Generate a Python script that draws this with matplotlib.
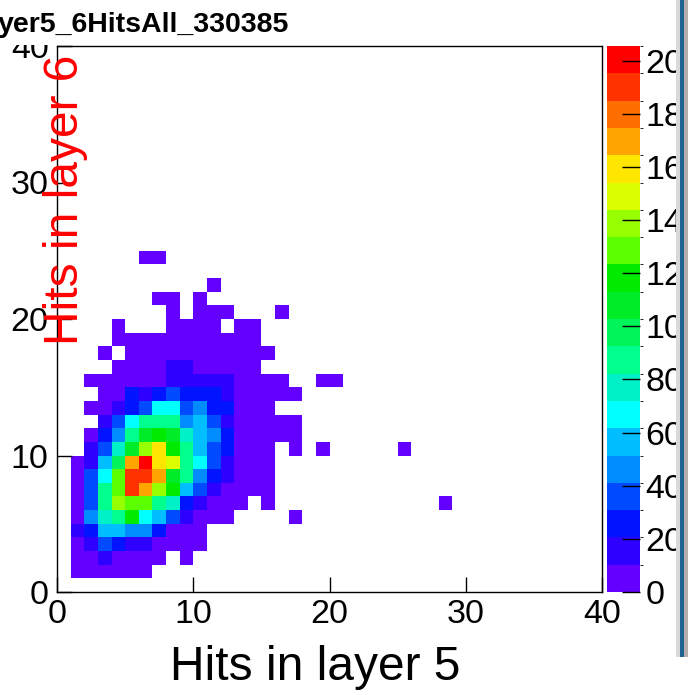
import numpy as np
import matplotlib
matplotlib.use("Agg")
import matplotlib.pyplot as plt
from matplotlib.colors import ListedColormap, BoundaryNorm
from matplotlib.patches import Rectangle

plt.rcParams['font.family'] = ['Liberation Sans', 'DejaVu Sans']

# bin contents: one row per "hits in layer 6" bin (0..24), columns = "hits in layer 5" bins 0..28
counts = [
    [0, 0, 0, 0, 0, 0, 0, 0, 0, 0, 0, 0, 0, 0, 0, 0, 0, 0, 0, 0, 0, 0, 0, 0, 0, 0, 0, 0, 0],
    [0, 3, 4, 5, 4, 3, 2, 0, 0, 0, 0, 0, 0, 0, 0, 0, 0, 0, 0, 0, 0, 0, 0, 0, 0, 0, 0, 0, 0],
    [0, 4, 6, 14, 7, 5, 3, 2, 0, 1, 0, 0, 0, 0, 0, 0, 0, 0, 0, 0, 0, 0, 0, 0, 0, 0, 0, 0, 0],
    [0, 5, 13, 35, 27, 16, 13, 6, 4, 2, 1, 0, 0, 0, 0, 0, 0, 0, 0, 0, 0, 0, 0, 0, 0, 0, 0, 0, 0],
    [0, 12, 25, 56, 58, 47, 44, 24, 7, 3, 2, 0, 0, 0, 0, 0, 0, 0, 0, 0, 0, 0, 0, 0, 0, 0, 0, 0, 0],
    [0, 6, 46, 76, 88, 116, 68, 58, 37, 14, 6, 3, 1, 0, 0, 0, 0, 1, 0, 0, 0, 0, 0, 0, 0, 0, 0, 0, 0],
    [0, 5, 38, 86, 138, 128, 126, 88, 78, 24, 13, 6, 3, 1, 0, 1, 0, 0, 0, 0, 0, 0, 0, 0, 0, 0, 0, 0, 1],
    [0, 6, 36, 88, 128, 191, 170, 140, 118, 58, 35, 14, 8, 4, 2, 1, 0, 0, 0, 0, 0, 0, 0, 0, 0, 0, 0, 0, 0],
    [0, 7, 38, 66, 130, 189, 188, 170, 108, 86, 46, 25, 14, 7, 3, 2, 0, 0, 0, 0, 0, 0, 0, 0, 0, 0, 0, 0, 0],
    [0, 4, 16, 56, 98, 170, 201, 160, 150, 88, 67, 36, 16, 8, 4, 1, 0, 0, 0, 0, 0, 0, 0, 0, 0, 0, 0, 0, 0],
    [0, 0, 14, 36, 78, 108, 140, 158, 118, 86, 58, 35, 26, 9, 4, 2, 0, 1, 0, 1, 0, 0, 0, 0, 0, 1, 0, 0, 0],
    [0, 0, 6, 26, 46, 88, 108, 118, 108, 77, 57, 46, 25, 9, 6, 3, 2, 1, 0, 0, 0, 0, 0, 0, 0, 0, 0, 0, 0],
    [0, 0, 0, 16, 36, 68, 88, 86, 88, 46, 56, 36, 16, 8, 5, 3, 1, 1, 0, 0, 0, 0, 0, 0, 0, 0, 0, 0, 0],
    [0, 0, 3, 6, 14, 26, 36, 67, 68, 36, 46, 26, 25, 8, 4, 2, 0, 0, 0, 0, 0, 0, 0, 0, 0, 0, 0, 0, 0],
    [0, 0, 0, 5, 8, 26, 16, 26, 36, 27, 25, 26, 14, 9, 5, 3, 2, 1, 0, 0, 0, 0, 0, 0, 0, 0, 0, 0, 0],
    [0, 0, 2, 4, 6, 7, 8, 9, 14, 16, 15, 12, 13, 7, 5, 3, 2, 0, 0, 1, 1, 0, 0, 0, 0, 0, 0, 0, 0],
    [0, 0, 0, 0, 3, 5, 4, 6, 12, 11, 7, 5, 4, 3, 2, 0, 0, 0, 0, 0, 0, 0, 0, 0, 0, 0, 0, 0, 0],
    [0, 0, 0, 1, 0, 3, 4, 5, 6, 4, 5, 3, 4, 2, 2, 1, 0, 0, 0, 0, 0, 0, 0, 0, 0, 0, 0, 0, 0],
    [0, 0, 0, 0, 1, 2, 3, 4, 3, 5, 4, 3, 2, 2, 1, 0, 0, 0, 0, 0, 0, 0, 0, 0, 0, 0, 0, 0, 0],
    [0, 0, 0, 0, 1, 0, 0, 0, 2, 3, 2, 1, 0, 1, 1, 0, 0, 0, 0, 0, 0, 0, 0, 0, 0, 0, 0, 0, 0],
    [0, 0, 0, 0, 0, 0, 0, 0, 1, 0, 2, 1, 1, 0, 0, 0, 1, 0, 0, 0, 0, 0, 0, 0, 0, 0, 0, 0, 0],
    [0, 0, 0, 0, 0, 0, 0, 1, 1, 0, 1, 0, 0, 0, 0, 0, 0, 0, 0, 0, 0, 0, 0, 0, 0, 0, 0, 0, 0],
    [0, 0, 0, 0, 0, 0, 0, 0, 0, 0, 0, 1, 0, 0, 0, 0, 0, 0, 0, 0, 0, 0, 0, 0, 0, 0, 0, 0, 0],
    [0, 0, 0, 0, 0, 0, 0, 0, 0, 0, 0, 0, 0, 0, 0, 0, 0, 0, 0, 0, 0, 0, 0, 0, 0, 0, 0, 0, 0],
    [0, 0, 0, 0, 0, 0, 1, 1, 0, 0, 0, 0, 0, 0, 0, 0, 0, 0, 0, 0, 0, 0, 0, 0, 0, 0, 0, 0, 0],
]

n_bins = 40
x_ticks = [0, 10, 20, 30, 40]
y_ticks = [0, 10, 20, 30, 40]
z_max = 205.5
z_ticks = [0, 20, 40, 60, 80, 100, 120, 140, 160, 180, 200]

# 20 level palette (violet -> blue -> cyan -> green -> yellow -> red)
palette = ['#6400ff', '#2d00ff', '#0014ff', '#004bff', '#008cff', '#00beff',
           '#00ffff', '#00f0c8', '#00ff8c', '#00f55a', '#00eb28', '#00eb00',
           '#5aff00', '#96ff00', '#dcff00', '#ffe600', '#ffa500', '#ff6e00',
           '#ff3200', '#ff0000']

# fill the full 40x40 histogram
grid = np.zeros((n_bins, n_bins))
arr = np.array(counts, dtype=float)
grid[:arr.shape[0], :arr.shape[1]] = arr
grid = np.ma.masked_where(grid <= 0, grid)

cmap = ListedColormap(palette)
norm = BoundaryNorm(np.linspace(0, z_max, len(palette) + 1), cmap.N)

fig = plt.figure(figsize=(6.88, 6.95), dpi=100)
ax = fig.add_axes([57 / 688, 103 / 695, 545 / 688, 546 / 695])
cax = fig.add_axes([607 / 688, 103 / 695, 33 / 688, 546 / 695])

edges = np.arange(n_bins + 1)
mesh = ax.pcolormesh(edges, edges, grid, cmap=cmap, norm=norm, antialiased=False)

ax.set_xlim(0, 40)
ax.set_ylim(0, 40)
ax.set_xticks(x_ticks)
ax.set_yticks(y_ticks)
ax.tick_params(direction='in', length=11, width=1, labelsize=24.5, pad=5)
ax.tick_params(axis='y', pad=6)
for s in ax.spines.values():
    s.set_linewidth(1)

cb = fig.colorbar(mesh, cax=cax, ticks=z_ticks)
cb.outline.set_visible(False)
cax.tick_params(direction='in', length=13, width=1, labelsize=24.5, pad=4)
cax.set_ylim(0, z_max)

# axis titles (ROOT style)
fig.text(315 / 688, 1 - 680 / 695, 'Hits in layer 5', fontsize=34.5,
         ha='center', va='baseline')
fig.text(66 / 688, 1 - 200 / 695, 'Hits in layer 6', fontsize=34.5, color='red',
         rotation=90, ha='center', va='center')

# title box covering the top of the "40" label
fig.add_artist(Rectangle((0, 1 - 45 / 695), 340 / 688, 45 / 695, transform=fig.transFigure,
                         facecolor='white', edgecolor='none', zorder=5))
fig.text(-2 / 688, 1 - 32 / 695, 'yer5_6HitsAll_330385', fontsize=20.5, fontweight='bold',
         ha='left', va='baseline', zorder=6)

# window frame strip on the right edge
fig.add_artist(Rectangle((676 / 688, 1 - 657 / 695), 4 / 688, 657 / 695, transform=fig.transFigure,
                         facecolor='#d9d9d9', edgecolor='none', zorder=5))
fig.add_artist(Rectangle((680 / 688, 1 - 657 / 695), 3.5 / 688, 657 / 695, transform=fig.transFigure,
                         facecolor='#1f6390', edgecolor='none', zorder=5))
fig.add_artist(Rectangle((683.5 / 688, 1 - 657 / 695), 4.5 / 688, 657 / 695, transform=fig.transFigure,
                         facecolor='#b5adad', edgecolor='none', zorder=5))

fig.savefig('out.png', dpi=100)
